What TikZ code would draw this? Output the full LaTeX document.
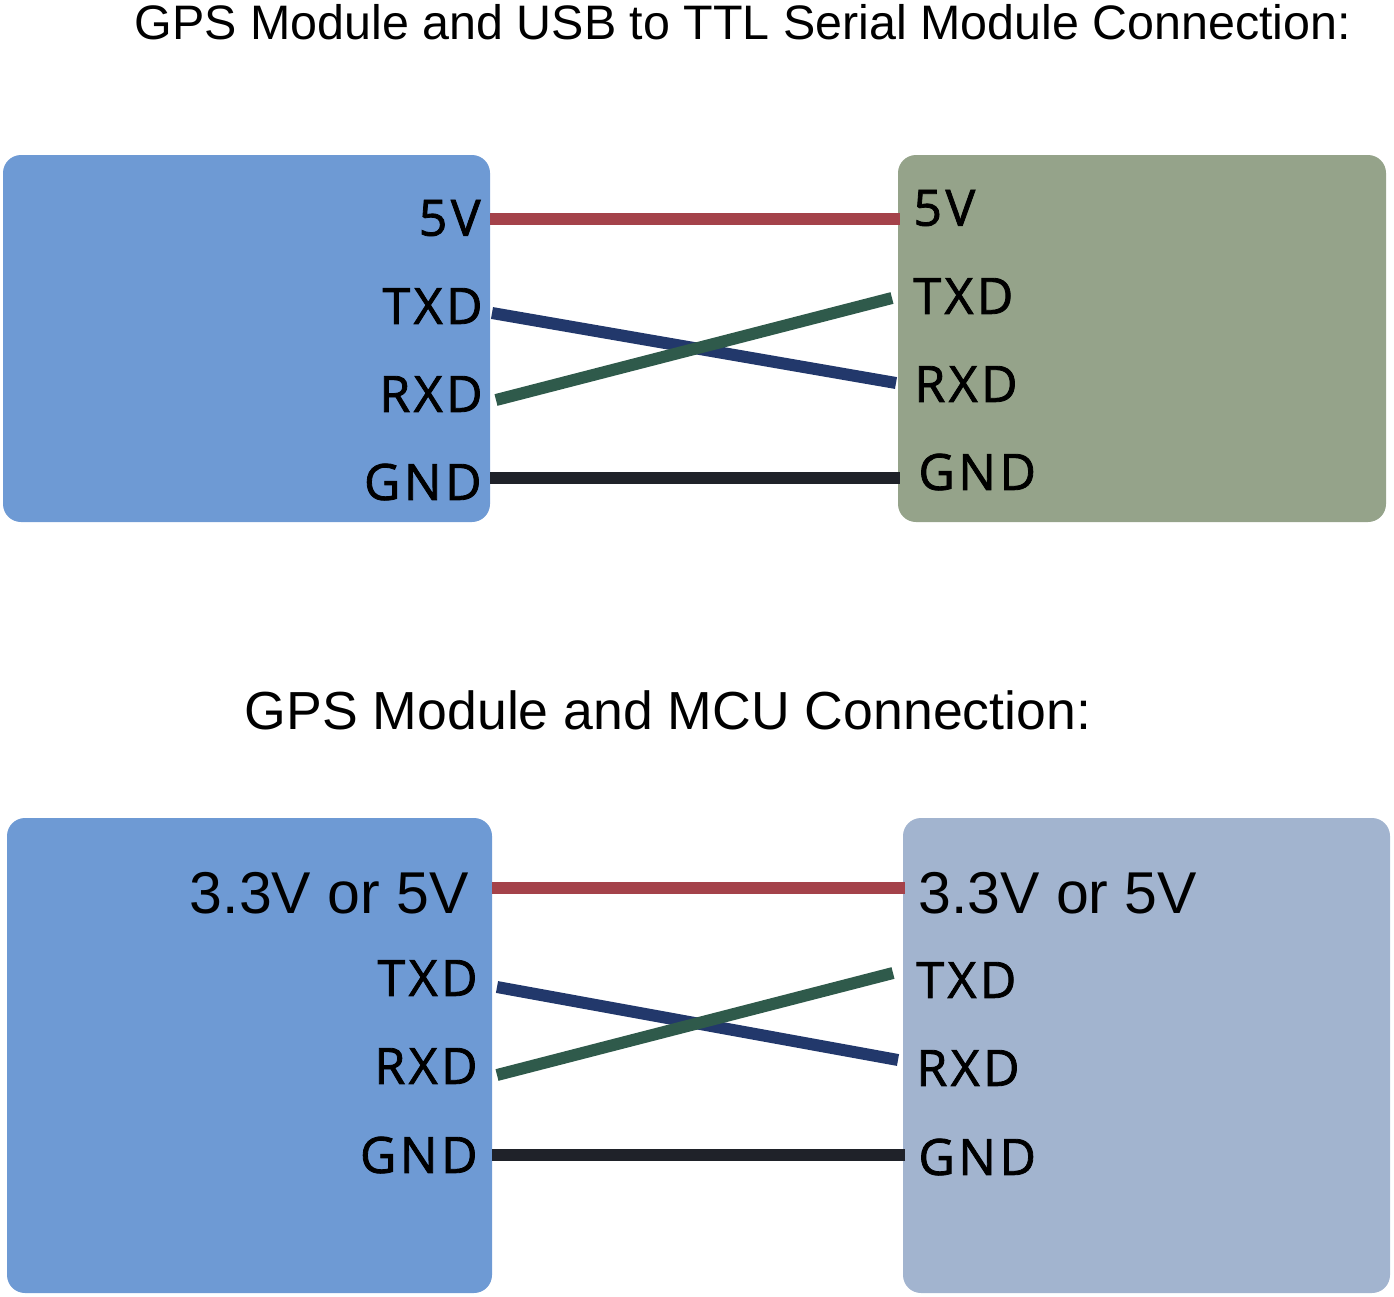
\documentclass[tikz,border=0pt]{standalone}
\usepackage{fontspec}
\setmainfont{Liberation Sans}
\newfontfamily\pinfont[LetterSpace=7,FakeBold=1.6]{Open Sans}
\usetikzlibrary{positioning}

\definecolor{gpsblue}{HTML}{6E9AD4}
\definecolor{usbgreen}{HTML}{95A38A}
\definecolor{mcublue}{HTML}{A2B4CF}
\definecolor{wirered}{HTML}{A4424A}
\definecolor{wirenavy}{HTML}{22386B}
\definecolor{wiregreen}{HTML}{2F5A4B}
\definecolor{wireblack}{HTML}{1F2229}

\begin{document}
\begin{tikzpicture}[x=0.5pt,y=-0.5pt,
  board/.style={rounded corners=9pt},
  pin/.style={font=\pinfont\fontsize{25}{25}\selectfont, inner sep=0pt},
  volt/.style={font=\fontsize{29.5}{29.5}\selectfont, inner sep=0pt},
  title/.style={font=\fontsize{24.2}{24.2}\selectfont, inner sep=0pt},
  wire/.style={line width=6pt}]
  \useasboundingbox (0,0) rectangle (1394,1297);

  % titles
  \node[title] (usbtitle) at (743,22) {GPS Module and USB to TTL Serial Module Connection:};
  \node[title, font=\fontsize{26.8}{26.8}\selectfont] (mcutitle) at (668,710) {GPS Module and MCU Connection:};

  % boards
  \fill[board, gpsblue] (3,155) rectangle (490,522);
  \fill[board, usbgreen] (898,155) rectangle (1386,522);
  \fill[board, gpsblue] (7,818) rectangle (492,1293);
  \fill[board, mcublue] (903,818) rectangle (1390,1293);

  % pin points, USB panel
  \coordinate (gpsA5v) at (490,219);  \coordinate (usb5v) at (900,219);
  \coordinate (gpsAtx) at (492,313);  \coordinate (usbrx) at (896,383);
  \coordinate (gpsArx) at (496,400);  \coordinate (usbtx) at (892,298);
  \coordinate (gpsAgnd) at (490,478); \coordinate (usbgnd) at (900,478);

  % pin points, MCU panel
  \coordinate (gpsBvcc) at (492,888); \coordinate (mcuvcc) at (905,888);
  \coordinate (gpsBtx) at (497,987);  \coordinate (mcurx) at (898,1060);
  \coordinate (gpsBrx) at (497,1075); \coordinate (mcutx) at (893,973);
  \coordinate (gpsBgnd) at (492,1155); \coordinate (mcugnd) at (905,1155);

  % labels
  \node[pin, anchor=east] (lA5v) at (481,218) {5V};
  \node[pin, anchor=east] (lAtx) at (483,306) {TXD};
  \node[pin, anchor=east] (lArx) at (483,394) {RXD};
  \node[pin, anchor=east] (lAgnd) at (482,482) {GND};
  \node[pin, anchor=west] (rA5v) at (913,208) {5V};
  \node[pin, anchor=west] (rAtx) at (913,296) {TXD};
  \node[pin, anchor=west] (rArx) at (914,384) {RXD};
  \node[pin, anchor=west] (rAgnd) at (918,472) {GND};

  \node[volt, anchor=east] (lBvcc) at (469,893) {3.3V or 5V};
  \node[pin, anchor=east] (lBtx) at (478,978) {TXD};
  \node[pin, anchor=east] (lBrx) at (478,1066) {RXD};
  \node[pin, anchor=east] (lBgnd) at (478,1155) {GND};
  \node[volt, anchor=west] (rBvcc) at (918,893) {3.3V or 5V};
  \node[pin, anchor=west] (rBtx) at (916,980) {TXD};
  \node[pin, anchor=west] (rBrx) at (916,1068) {RXD};
  \node[pin, anchor=west] (rBgnd) at (918,1157) {GND};

  % wires
  \draw[wire, wirered] (gpsA5v) -- (usb5v);
  \draw[wire, wirenavy] (gpsAtx) -- (usbrx);
  \draw[wire, wiregreen] (gpsArx) -- (usbtx);
  \draw[wire, wireblack] (gpsAgnd) -- (usbgnd);

  \draw[wire, wirered] (gpsBvcc) -- (mcuvcc);
  \draw[wire, wirenavy] (gpsBtx) -- (mcurx);
  \draw[wire, wiregreen] (gpsBrx) -- (mcutx);
  \draw[wire, wireblack] (gpsBgnd) -- (mcugnd);
\end{tikzpicture}
\end{document}
